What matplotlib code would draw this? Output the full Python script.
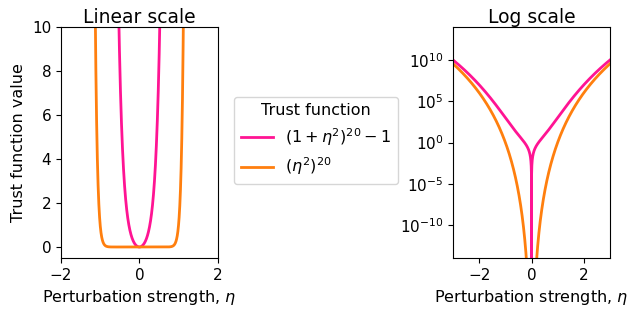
import numpy as np
import matplotlib
matplotlib.use("Agg")
from matplotlib import pyplot as plt

# trust function parameters (curves in the picture follow exponent 10)
power = 10
eta_lin = np.linspace(-2, 2, 4001)
eta_log = np.concatenate([np.linspace(-3, -1e-3, 3000),
                          np.linspace(-1e-3, 1e-3, 2001),
                          np.linspace(1e-3, 3, 3000)])

labels = [r"$(1+\eta^2)^{20}-1$", r"$(\eta^2)^{20}$"]
colors = ["#ff1493", "#ff7f0e"]


def trust_a(eta):
    return (1 + eta**2)**power - 1


def trust_b(eta):
    return (eta**2)**power


fig = plt.figure(figsize=(6.32, 3.15), dpi=100)
ax1 = fig.add_axes([0.0965, 0.181, 0.248, 0.733])
ax2 = fig.add_axes([0.717, 0.181, 0.248, 0.733])

#%% linear
l1, = ax1.plot(eta_lin, trust_a(eta_lin), color=colors[0], lw=2, label=labels[0])
l2, = ax1.plot(eta_lin, trust_b(eta_lin), color=colors[1], lw=2, label=labels[1])
ax1.set_xlim(-2, 2)
ax1.set_ylim(-0.5, 10)
ax1.set_xticks([-2, 0, 2])
ax1.set_yticks([0, 2, 4, 6, 8, 10])
ax1.set_title("Linear scale", fontsize=13.5, pad=3)
ax1.set_xlabel(r"Perturbation strength, $\eta$", fontsize=11.5)
ax1.set_ylabel("Trust function value", fontsize=11.5)
ax1.tick_params(labelsize=11)

#%% log
ax2.plot(eta_log, trust_a(eta_log), color=colors[0], lw=2)
ax2.plot(eta_log, trust_b(eta_log), color=colors[1], lw=2)
ax2.set_yscale("log")
ax2.set_xlim(-3, 3)
ax2.set_ylim(1e-14, 1e14)
ax2.set_yticks([1e-10, 1e-5, 1e0, 1e5, 1e10])
ax2.minorticks_off()
ax2.set_title("Log scale", fontsize=13.5, pad=3)
ax2.set_xlabel(r"Perturbation strength, $\eta$", fontsize=11.5)
ax2.tick_params(labelsize=11)

fig.legend(handles=[l1, l2], title="Trust function", loc="center",
           bbox_to_anchor=(0.5, 0.555), fontsize=11.5, title_fontsize=11.5)

fig.savefig("out.png", dpi=100)
